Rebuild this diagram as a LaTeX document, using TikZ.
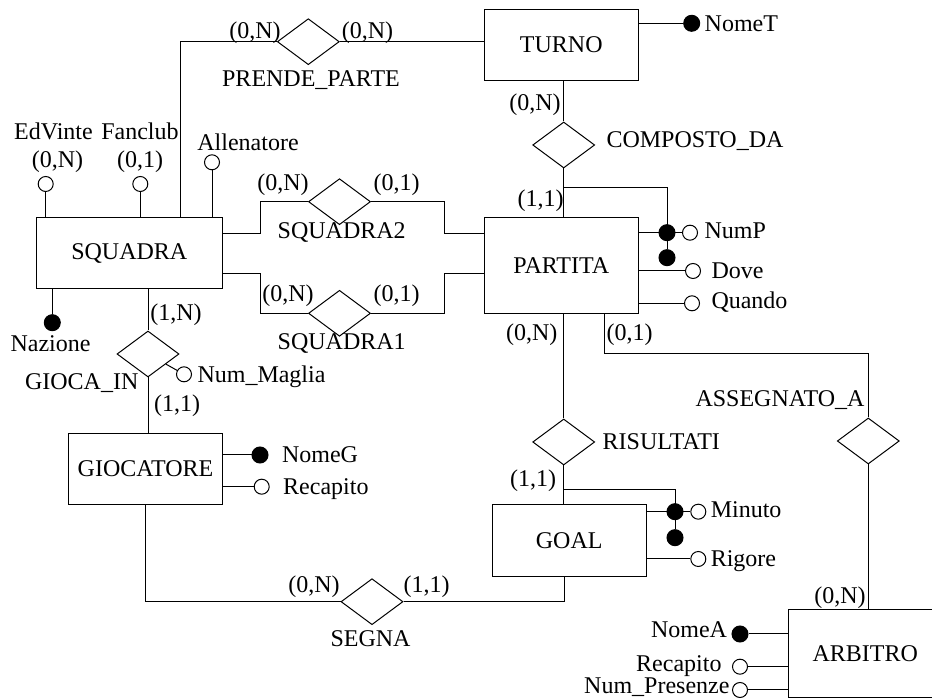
\documentclass[tikz,border=0pt]{standalone}
\usepackage{fontspec}
\setmainfont{Liberation Serif}
\usetikzlibrary{shapes.geometric,positioning}
\tikzset{
  entita/.style={draw, rectangle, inner sep=0pt},
  relazione/.style={draw, diamond, inner sep=0pt, minimum width=31pt, minimum height=23pt},
  testo/.style={inner sep=0pt, text height=7.9pt, text depth=0pt},
  attr/.style={draw, circle, fill=white, inner sep=0pt, minimum size=7.5pt},
  chiave/.style={draw, circle, fill=black, inner sep=0pt, minimum size=8pt},
}
\begin{document}
\begin{tikzpicture}[x=0.5pt, y=-0.5pt, line width=0.5pt,
    every node/.style={font=\fontsize{12pt}{14pt}\selectfont}]
  \useasboundingbox (0,0) rectangle (932,699);

  % entita
  \node[entita, minimum width=93.3pt, minimum height=35.5pt] (squadra) at (129.3,253.2) {SQUADRA};
  \node[entita, minimum width=77pt, minimum height=35.7pt] (turno) at (561.3,45) {TURNO};
  \node[entita, minimum width=77pt, minimum height=47.8pt] (partita) at (561.3,265.5) {PARTITA};
  \node[entita, minimum width=77.2pt, minimum height=35.4pt] (giocatore) at (145.5,468.7) {GIOCATORE};
  \node[entita, minimum width=76.8pt, minimum height=35.8pt] (goal) at (569.2,540.8) {GOAL};
  \node[entita, minimum width=77pt, minimum height=43.7pt] (arbitro) at (865.3,653.7) {ARBITRO};

  % relazioni
  \node[relazione] (prende) at (308.3,41.7) {};
  \node[relazione] (composto) at (563.7,145) {};
  \node[relazione] (squadra2) at (339.5,201.7) {};
  \node[relazione] (squadra1) at (339.5,313.3) {};
  \node[relazione] (gioca) at (148,354) {};
  \node[relazione] (risultati) at (563.7,442) {};
  \node[relazione] (assegnato) at (868.3,441) {};
  \node[relazione] (segna) at (372,601.7) {};

  % nomi delle relazioni
  \node[testo] (tprende) at (311,79) {PRENDE\_PARTE};
  \node[testo] (tcomposto) at (695,140) {COMPOSTO\_DA};
  \node[testo] (tsquadra2) at (341.7,230.7) {SQUADRA2};
  \node[testo] (tsquadra1) at (341.7,342) {SQUADRA1};
  \node[testo] (tgioca) at (81.7,381.7) {GIOCA\_IN};
  \node[testo] (trisultati) at (661.3,441.7) {RISULTATI};
  \node[testo] (tassegnato) at (780,398.3) {ASSEGNATO\_A};
  \node[testo] (tsegna) at (370.5,638.3) {SEGNA};

  % cardinalita
  \node[testo] (c1) at (255,30.7) {(0,N)};
  \node[testo] (c2) at (367.5,30.7) {(0,N)};
  \node[testo] (c3) at (57.5,160) {(0,N)};
  \node[testo] (c4) at (140,160) {(0,1)};
  \node[testo] (c5) at (283,183) {(0,N)};
  \node[testo] (c6) at (396.7,183) {(0,1)};
  \node[testo] (c7) at (288,294) {(0,N)};
  \node[testo] (c8) at (396.7,294) {(0,1)};
  \node[testo] (c9) at (176,312.3) {(1,N)};
  \node[testo] (c10) at (177,404) {(1,1)};
  \node[testo] (c11) at (535,103) {(0,N)};
  \node[testo] (c12) at (540.5,198.3) {(1,1)};
  \node[testo] (c13) at (531.7,332.3) {(0,N)};
  \node[testo] (c14) at (629.7,332.3) {(0,1)};
  \node[testo] (c15) at (533,479) {(1,1)};
  \node[testo] (c16) at (314,585) {(0,N)};
  \node[testo] (c17) at (426.7,585) {(1,1)};
  \node[testo] (c18) at (840,595.7) {(0,N)};

  % attributi
  \node[chiave] (nomet) at (691.7,23.3) {};
  \node[testo, right=2pt of nomet] (tnomet) {NomeT};
  \node[attr] (edvinte) at (45.7,184) {};
  \node[testo] (tedvinte) at (53.5,131.7) {EdVinte};
  \node[attr] (fanclub) at (140.3,184) {};
  \node[testo] (tfanclub) at (140,131.7) {Fanclub};
  \node[attr] (allenatore) at (212,162.3) {};
  \node[testo] (tallenatore) at (248,143) {Allenatore};
  \node[chiave] (nazione) at (52.3,322.7) {};
  \node[testo] (tnazione) at (50.5,343.3) {Nazione};
  \node[attr] (nummaglia) at (184,374.3) {};
  \node[testo, right=2.5pt of nummaglia] (tnummaglia) {Num\_Maglia};
  \node[chiave] (nomeg) at (260,455) {};
  \node[testo, right=6.5pt of nomeg] (tnomeg) {NomeG};
  \node[attr] (recapitog) at (261.7,486.7) {};
  \node[testo, right=6.5pt of recapitog] (trecapitog) {Recapito};
  \node[chiave] (nump1) at (667,232.7) {};
  \node[chiave] (nump2) at (667,257.7) {};
  \node[attr] (nump) at (690,232.7) {};
  \node[testo, right=3pt of nump, yshift=0.8pt] (tnump) {NumP};
  \node[attr] (dove) at (693,271) {};
  \node[testo, right=5pt of dove] (tdove) {Dove};
  \node[attr] (quando) at (692,303.3) {};
  \node[testo, right=5.5pt of quando, yshift=1.2pt] (tquando) {Quando};
  \node[chiave] (minuto1) at (675,511.7) {};
  \node[chiave] (minuto2) at (675,537.7) {};
  \node[attr] (minuto) at (698.3,511.7) {};
  \node[testo, right=2pt of minuto, yshift=0.8pt] (tminuto) {Minuto};
  \node[attr] (rigore) at (698.3,559) {};
  \node[testo, right=2pt of rigore] (trigore) {Rigore};
  \node[chiave] (nomea) at (740,634) {};
  \node[testo, left=2pt of nomea, yshift=2pt] (tnomea) {NomeA};
  \node[attr] (recapitoa) at (740,666.7) {};
  \node[testo, left=5pt of recapitoa, yshift=1.5pt] (trecapitoa) {Recapito};
  \node[attr] (numpres) at (740,690) {};
  \node[testo, left=1pt of numpres, yshift=2pt] (tnumpres) {Num\_Presenze};

  % linee degli attributi
  \draw (turno.east |- nomet) -- (nomet);
  \draw (edvinte) -- (squadra.north -| edvinte);
  \draw (fanclub) -- (squadra.north -| fanclub);
  \draw (allenatore) -- (squadra.north -| allenatore);
  \draw (nazione) -- (squadra.south -| nazione);
  \draw (nummaglia) -- (gioca);
  \draw (giocatore.east |- nomeg) -- (nomeg);
  \draw (giocatore.east |- recapitog) -- (recapitog);
  \draw (partita.east |- nump) -- (nump);
  \draw (partita.east |- dove) -- (dove);
  \draw (partita.east |- quando) -- (quando);
  \draw (goal.east |- minuto) -- (minuto);
  \draw (goal.east |- rigore) -- (rigore);
  \draw (arbitro.west |- nomea) -- (nomea);
  \draw (arbitro.west |- recapitoa) -- (recapitoa);
  \draw (arbitro.west |- numpres) -- (numpres);

  % collegamenti
  \coordinate (pp) at (180,41.7);
  \draw (squadra.north -| pp) -- (pp) -- (prende.west);
  \draw (prende.east) -- (turno.west |- prende.east);
  \draw (turno.south -| composto) -- (composto.north);
  \draw (composto.south) -- (partita.north -| composto);
  \coordinate (idp) at (667,187.3);
  \draw (composto.south |- idp) -- (idp) -- (nump2);
  \coordinate (s2a) at (260.3,233.3);
  \coordinate (s2b) at (444.3,233.3);
  \draw (squadra.east |- s2a) -- (s2a) |- (squadra2.west);
  \draw (squadra2.east) -| (s2b) -- (partita.west |- s2b);
  \coordinate (s1a) at (260.3,274);
  \coordinate (s1b) at (444.3,274);
  \draw (squadra.east |- s1a) -- (s1a) |- (squadra1.west);
  \draw (squadra1.east) -| (s1b) -- (partita.west |- s1b);
  \draw (squadra.south -| gioca) -- (gioca.north);
  \draw (gioca.south) -- (giocatore.north -| gioca);
  \draw (partita.south -| risultati) -- (risultati.north);
  \draw (risultati.south) -- (goal.north -| risultati);
  \coordinate (idg) at (675,490);
  \draw (risultati.south |- idg) -- (idg) -- (minuto2);
  \coordinate (asa) at (604.3,353.3);
  \draw (partita.south -| asa) -- (asa) -| (assegnato.north);
  \draw (assegnato.south) -- (arbitro.north -| assegnato);
  \coordinate (sga) at (145.7,601.7);
  \coordinate (sgb) at (564.3,601.7);
  \draw (giocatore.south -| sga) -- (sga) -- (segna.west);
  \draw (segna.east) -- (sgb) -- (goal.south -| sgb);
\end{tikzpicture}
\end{document}
